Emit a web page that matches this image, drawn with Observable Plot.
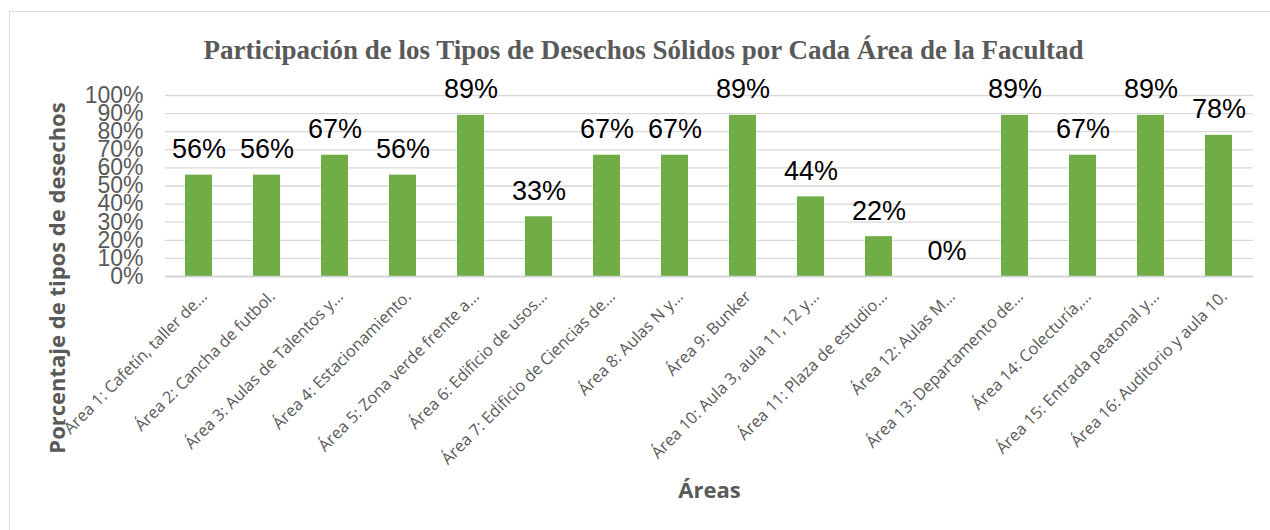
<!DOCTYPE html>
<html>
<head>
<meta charset="utf-8">
<script src="https://cdn.jsdelivr.net/npm/d3@7"></script>
<script src="https://cdn.jsdelivr.net/npm/@observablehq/plot@0.6"></script>
<style>
  html, body { margin: 0; padding: 0; background: #fff; }
  #frame { position: absolute; left: 9px; top: 11px; width: 1400px; height: 700px; border: 1px solid #d9d9d9; box-sizing: border-box; }
  #chart { position: absolute; left: 0; top: 0; }
</style>
</head>
<body>
<div id="frame"></div>
<div id="chart"></div>
<script>
const titleText = "Participación de los Tipos de Desechos Sólidos por Cada Área de la Facultad";
const yTitle = "Porcentaje de tipos de desechos";
const xTitle = "Áreas";

const areas = [
  "Área 1: Cafetín, taller de...",
  "Área 2: Cancha de futbol.",
  "Área 3: Aulas de Talentos y...",
  "Área 4: Estacionamiento.",
  "Área 5: Zona verde frente a...",
  "Área 6: Edificio de usos...",
  "Área 7: Edificio de Ciencias de...",
  "Área 8: Aulas N y...",
  "Área 9: Bunker",
  "Área 10: Aula 3, aula 11, 12 y...",
  "Área 11: Plaza de estudio...",
  "Área 12: Aulas M...",
  "Área 13: Departamento de...",
  "Área 14: Colecturía,...",
  "Área 15: Entrada peatonal y...",
  "Área 16: Auditorio y aula 10."
];
const values = [0.56, 0.56, 0.67, 0.56, 0.89, 0.33, 0.67, 0.67, 0.89, 0.44, 0.22, 0.00, 0.89, 0.67, 0.89, 0.78];
const yTicks = [0, 0.1, 0.2, 0.3, 0.4, 0.5, 0.6, 0.7, 0.8, 0.9, 1.0];

const data = areas.map((a, i) => ({area: a, value: values[i]}));
const gray = "#595959";
const pct = d3.format(".0%");

const chart = Plot.plot({
  width: 1270,
  height: 530,
  marginLeft: 165,
  marginRight: 17,
  marginTop: 95,
  marginBottom: 254,
  style: {background: "transparent", overflow: "visible"},
  x: {domain: areas, paddingInner: 0.6, paddingOuter: 0.3, label: null, axis: null},
  y: {domain: [0, 1], label: null},
  marks: [
    Plot.gridY(yTicks, {stroke: "#d9d9d9", strokeOpacity: 1, strokeWidth: 1.3}),
    Plot.barY(data, {x: "area", y: "value", fill: "#70ad47"}),
    Plot.ruleY([0], {stroke: "#d0d0d0", strokeWidth: 1.5}),
    Plot.text(data, {x: "area", y: "value", text: d => pct(d.value), lineAnchor: "bottom", dy: -17,
      fontSize: 27, fill: "#000", fontFamily: "Liberation Sans, Arial, sans-serif"}),
    Plot.axisY({ticks: yTicks, tickFormat: pct, tickSize: 0, tickPadding: 22, fontSize: 23, fill: gray,
      fontFamily: "Liberation Sans, Arial, sans-serif", label: null}),
    Plot.text(areas, {x: d => d, frameAnchor: "bottom", text: d => d, rotate: -45, textAnchor: "end",
      dx: 9, dy: 21, fontSize: 16.3, fill: gray, fontFamily: "Open Sans, sans-serif"}),
    Plot.text([titleText], {frameAnchor: "top", textAnchor: "middle", dx: -66, dy: -56, fontSize: 27, fontWeight: "bold",
      fill: gray, fontFamily: "Liberation Serif, Times New Roman, serif"}),
    Plot.text([yTitle], {frameAnchor: "left", textAnchor: "middle", rotate: -90, dx: -108, dy: 92, fontSize: 22, fontWeight: "bold",
      fill: gray, fontFamily: "Open Sans, sans-serif"}),
    Plot.text([xTitle], {frameAnchor: "bottom", dy: 221, fontSize: 22, fontWeight: "bold",
      fill: gray, fontFamily: "Open Sans, sans-serif"})
  ]
});
document.getElementById("chart").appendChild(chart);
</script>
</body>
</html>
